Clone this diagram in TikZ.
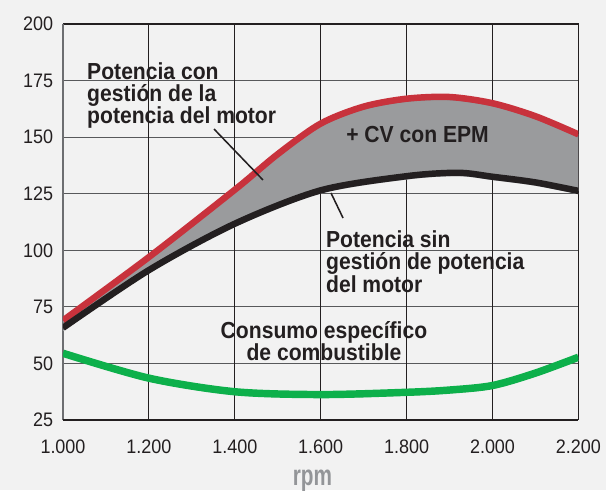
\documentclass[tikz,border=0pt]{standalone}
\usepackage{fontspec}
\setmainfont{Liberation Sans}
\newfontfamily\tickfont{Liberation Sans}[FakeStretch=0.92]
\newfontfamily\lblfont{Liberation Sans}[FakeStretch=0.91]
\newfontfamily\rpmfont{Liberation Sans}[FakeStretch=0.72]
\usepackage{xcolor}
\usepackage{tikz}

\definecolor{bgray}{HTML}{F2F2F2}
\definecolor{ink}{HTML}{231F20}
\definecolor{gridgray}{HTML}{58595B}
\definecolor{axisgray}{HTML}{6D6E71}
\definecolor{bandgray}{HTML}{9A9B9D}
\definecolor{darkshade}{HTML}{77787B}
\definecolor{lightshade}{HTML}{ABADB0}
\definecolor{epmred}{HTML}{C8323C}
\definecolor{fuelgreen}{HTML}{0DB04B}
\definecolor{rpmgray}{HTML}{939598}

\begin{document}
\begin{tikzpicture}[x=2.1475cm,y=1.4143cm,
  hgrid/.style={draw=gridgray,line width=0.8pt},
  vgrid/.style={draw=ink,line width=0.8pt},
  epm/.style={draw=epmred,line width=4.6pt,preaction={draw=darkshade,transform canvas={yshift=-2pt}}},
  noepm/.style={draw=ink,line width=4.6pt,preaction={draw=lightshade,transform canvas={yshift=-2.2pt}}},
  fuel/.style={draw=fuelgreen,line width=5.3pt,preaction={draw=lightshade,transform canvas={yshift=-2.2pt}}},
  lbl/.style={font=\lblfont\bfseries\fontsize{16.5}{16}\selectfont,text=ink,inner sep=0pt},
  tick/.style={font=\tickfont\fontsize{13.9}{14}\selectfont,text=ink,inner sep=0pt},
  lead/.style={draw=ink,line width=1.1pt}]

  \fill[bgray] (-0.7334,-1.2374) rectangle (6.3213,7.4245);
  \useasboundingbox (-0.7334,-1.2374) rectangle (6.3213,7.4245);

  % grid
  \foreach \k in {1,...,6} \draw[hgrid] (0,\k) -- (6,\k);
  \foreach \k in {1,...,5} \draw[vgrid] (\k,0) -- (\k,7);
  \draw[vgrid] (0,7) -- (6,7) -- (6,0);
  \draw[axisgray,line width=1.3pt] (0,0) -- (0,7);
  \draw[ink,line width=1.3pt] (0,0) -- (6,0);

  \begin{scope}
    \clip (0,-0.5) rectangle (6,7);
    \fill[bandgray] plot[smooth] coordinates {(0,1.76) (1,2.88) (2,4.07) (2.5,4.70) (3,5.24) (3.5,5.54) (4,5.68) (4.5,5.71) (5,5.60) (5.5,5.37) (6,5.05)}
      -- plot[smooth] coordinates {(6,4.05) (5.5,4.20) (5,4.30) (4.6,4.37) (4,4.31) (3,4.06) (2,3.47) (1,2.65) (0,1.63)} -- cycle;
    \draw[epm] plot[smooth] coordinates {(0,1.76) (1,2.88) (2,4.07) (2.5,4.70) (3,5.24) (3.5,5.54) (4,5.68) (4.5,5.71) (5,5.60) (5.5,5.37) (6,5.05)};
    \draw[noepm] plot[smooth] coordinates {(0,1.63) (1,2.65) (2,3.47) (3,4.06) (4,4.31) (4.6,4.37) (5,4.30) (5.5,4.20) (6,4.05)};
    \draw[fuel] plot[smooth] coordinates {(0,1.18) (1,0.74) (2,0.50) (3,0.45) (4,0.49) (4.5,0.53) (5,0.61) (5.5,0.83) (6,1.11)};
  \end{scope}

  % axis labels
  \foreach \v [count=\k from 0] in {25,50,75,100,125,150,175,200}
    \node[tick,anchor=east] (y\v) at (-0.113,\k) {\v};
  \foreach \r [count=\k from 0] in {1.000,1.200,1.400,1.600,1.800,2.000,2.200}
    \node[tick] (x\k) at (\k,-0.477) {\r};
  \node[font=\rpmfont\bfseries\fontsize{20.5}{20}\selectfont,text=rpmgray,inner sep=0pt,anchor=base] (rpm) at (2.904,-1.149) {rpm};

  % curve labels
  \node[lbl,align=left,anchor=north west] (conLbl) at (0.279,6.33) {Potencia con\\gestión de la\\potencia del motor};
  \node[lbl,anchor=base west] (gainLbl) at (3.295,4.914) {+ CV con EPM};
  \node[lbl,align=left,anchor=north west] (sinLbl) at (3.06,3.36) {Potencia sin\\gestión de potencia\\del motor};
  \node[lbl,align=center,anchor=north] (fuelLbl) at (3.038,1.75) {Consumo específico\\de combustible};

  \coordinate (conTail) at (1.758,5.144);
  \coordinate (conHead) at (2.328,4.243);
  \coordinate (sinHead) at (3.12,4.013);
  \coordinate (sinTail) at (3.26,3.571);
  \draw[lead] (conTail) -- (conHead);
  \draw[lead] (sinTail) -- (sinHead);
\end{tikzpicture}
\end{document}
